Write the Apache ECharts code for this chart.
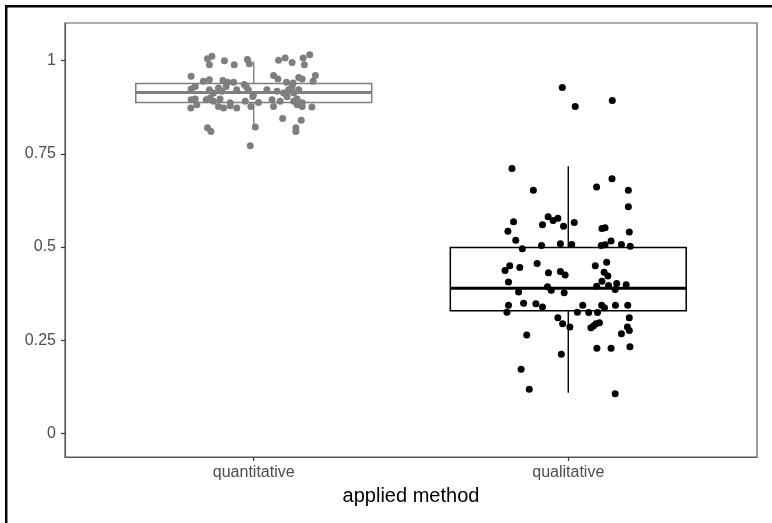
<!DOCTYPE html>
<html>
<head>
<meta charset="utf-8">
<script src="https://cdn.jsdelivr.net/npm/echarts@6/dist/echarts.min.js"></script>
<style>
html,body{margin:0;padding:0;background:#fff;}
#chart{width:772px;height:523px;}
</style>
</head>
<body>
<div id="chart"></div>
<script>
// ---- data ----
const categories = ['quantitative', 'qualitative'];
const yTicks = [0, 0.25, 0.5, 0.75, 1];
const xTitle = 'applied method';

// box statistics: [lower whisker, Q1, median, Q3, upper whisker]
const quantBox = [0.819, 0.888, 0.915, 0.939, 0.997];
const qualBox  = [0.109, 0.329, 0.389, 0.499, 0.717];

// jittered observations: horizontal jitter (category units) and value
const quantJitter = [-0.147,-0.133,-0.141,-0.093,-0.062,-0.020,-0.014,0.079,0.100,0.122,0.157,0.178,0.161,
  -0.199,-0.160,-0.141,-0.098,-0.083,-0.064,-0.030,0.063,0.077,0.104,0.125,0.143,0.154,0.196,0.189,
  -0.199,-0.186,-0.141,-0.128,-0.112,-0.101,-0.088,-0.054,-0.024,-0.017,-0.001,0.042,0.074,0.095,0.111,0.122,0.127,0.143,
  -0.199,-0.186,-0.151,-0.139,-0.128,-0.107,-0.075,-0.027,-0.003,0.015,0.058,0.084,0.106,0.127,0.138,0.154,
  -0.200,-0.181,-0.112,-0.096,-0.075,-0.054,-0.009,0.063,0.138,0.154,0.185,
  -0.147,-0.136,0.005,0.092,0.151,0.134,0.134,-0.011];
const quantValues = [1.005,1.012,0.989,1.000,0.989,1.003,0.992,1.001,1.007,0.995,1.007,1.016,0.989,
  0.958,0.945,0.949,0.947,0.942,0.942,0.936,0.960,0.951,0.942,0.940,0.955,0.951,0.960,0.945,
  0.924,0.931,0.922,0.913,0.927,0.918,0.931,0.922,0.931,0.922,0.909,0.922,0.918,0.913,0.922,0.931,0.913,0.922,
  0.895,0.897,0.895,0.900,0.891,0.897,0.887,0.891,0.904,0.888,0.895,0.891,0.903,0.891,0.897,0.887,
  0.873,0.882,0.877,0.873,0.879,0.873,0.877,0.877,0.882,0.877,0.876,
  0.820,0.810,0.822,0.845,0.840,0.820,0.810,0.772];

const qualJitter = [-0.019,0.022,0.140,
  -0.179,-0.111,0.090,0.139,0.191,0.191,-0.174,-0.192,-0.167,-0.146,
  -0.082,-0.064,-0.048,-0.033,-0.015,0.019,-0.085,-0.025,0.011,0.107,
  0.117,0.194,0.105,0.117,0.136,0.169,0.197,-0.186,-0.201,-0.154,
  -0.099,-0.063,-0.025,-0.010,-0.190,-0.066,0.086,0.122,0.114,0.126,
  0.107,0.090,0.128,0.154,0.184,-0.158,-0.054,-0.013,0.149,-0.190,
  -0.142,-0.103,-0.082,0.046,0.106,0.115,0.150,0.189,-0.195,0.029,
  0.065,0.093,-0.033,-0.018,0.005,0.072,0.080,0.088,0.099,0.194,
  0.188,0.194,0.169,-0.132,0.091,0.136,0.196,-0.022,-0.150,-0.124,0.149];
const qualValues = [0.928,0.877,0.893,
  0.711,0.652,0.661,0.683,0.652,0.608,0.568,0.542,0.518,0.495,
  0.560,0.581,0.571,0.577,0.556,0.566,0.504,0.509,0.507,0.550,
  0.552,0.540,0.504,0.506,0.516,0.507,0.502,0.450,0.437,0.445,
  0.456,0.431,0.434,0.425,0.406,0.393,0.450,0.459,0.432,0.422,
  0.408,0.395,0.397,0.402,0.399,0.379,0.384,0.377,0.386,0.344,
  0.349,0.348,0.339,0.344,0.344,0.337,0.344,0.344,0.325,0.325,
  0.324,0.324,0.310,0.294,0.285,0.283,0.288,0.294,0.297,0.310,
  0.285,0.276,0.267,0.264,0.228,0.228,0.232,0.212,0.172,0.118,0.106];

// ---- build ----
const quantColor = '#7f7f7f';
const qualColor = '#000000';
const quantPoints = quantJitter.map((j, i) => [1 + j, quantValues[i]]);
const qualPoints = qualJitter.map((j, i) => [2 + j, qualValues[i]]);
const boxData = [
  [1].concat(quantBox),
  [2].concat(qualBox)
];
const boxColors = [quantColor, qualColor];

const chart = echarts.init(document.getElementById('chart'), null, {renderer: 'canvas'});

function renderBox(params, api) {
  const x = api.value(0);
  const c = boxColors[params.dataIndex];
  const lo = api.coord([x, api.value(1)]);
  const q1 = api.coord([x, api.value(2)]);
  const md = api.coord([x, api.value(3)]);
  const q3 = api.coord([x, api.value(4)]);
  const hi = api.coord([x, api.value(5)]);
  const left = api.coord([x - 0.375, api.value(3)])[0];
  const right = api.coord([x + 0.375, api.value(3)])[0];
  return {
    type: 'group',
    children: [
      {type: 'line', shape: {x1: hi[0], y1: hi[1], x2: q3[0], y2: q3[1]}, style: {stroke: c, lineWidth: 1.4}},
      {type: 'line', shape: {x1: lo[0], y1: lo[1], x2: q1[0], y2: q1[1]}, style: {stroke: c, lineWidth: 1.4}},
      {type: 'rect', shape: {x: left, y: q3[1], width: right - left, height: q1[1] - q3[1]},
        style: {fill: '#ffffff', stroke: c, lineWidth: 1.5}},
      {type: 'line', shape: {x1: left, y1: md[1], x2: right, y2: md[1]}, style: {stroke: c, lineWidth: 3}}
    ]
  };
}

const axisFont = 'Liberation Sans, Arial, sans-serif';
const option = {
  backgroundColor: '#ffffff',
  animation: false,
  textStyle: {fontFamily: axisFont},
  grid: {
    left: 65, top: 23, width: 692, height: 434,
    show: true, borderColor: '#5a5a5a', borderWidth: 1.2, backgroundColor: 'transparent'
  },
  xAxis: {
    type: 'value', min: 0.4, max: 2.6,
    splitLine: {show: false},
    axisLine: {show: true, onZero: false, lineStyle: {color: '#5a5a5a', width: 1.2}},
    axisTick: {show: true, inside: false, customValues: [1, 2], length: 4, lineStyle: {color: '#333333', width: 1.2}},
    axisLabel: {
      customValues: [1, 2], margin: 8, fontSize: 16, color: '#4d4d4d',
      fontFamily: axisFont,
      formatter: v => categories[Math.round(v) - 1] || ''
    },
    name: xTitle, nameLocation: 'middle', nameGap: 29,
    nameTextStyle: {fontSize: 20, color: '#000000', fontFamily: axisFont}
  },
  yAxis: {
    type: 'value', min: -0.0636, max: 1.1012,
    splitLine: {show: false},
    axisLine: {show: true, onZero: false, lineStyle: {color: '#5a5a5a', width: 1.2}},
    axisTick: {show: true, inside: false, customValues: yTicks, length: 4, lineStyle: {color: '#333333', width: 1.2}},
    axisLabel: {
      customValues: yTicks, margin: 9, fontSize: 16, color: '#4d4d4d',
      fontFamily: axisFont,
      formatter: v => String(v)
    }
  },
  graphic: [
    {type: 'line', shape: {x1: 6.2, y1: 5, x2: 6.2, y2: 523}, style: {stroke: '#000', lineWidth: 2.5}, z: 100},
    {type: 'line', shape: {x1: 5, y1: 6.2, x2: 772, y2: 6.2}, style: {stroke: '#000', lineWidth: 2.5}, z: 100}
  ],
  series: [
    {
      type: 'custom', renderItem: renderBox, data: boxData,
      dimensions: ['x', 'low', 'q1', 'median', 'q3', 'high'],
      encode: {x: 0, y: [1, 2, 3, 4, 5]}, z: 2, silent: true
    },
    {
      type: 'scatter', data: quantPoints, symbolSize: 7, z: 3,
      itemStyle: {color: quantColor, opacity: 1}
    },
    {
      type: 'scatter', data: qualPoints, symbolSize: 7, z: 3,
      itemStyle: {color: qualColor, opacity: 1}
    }
  ]
};
chart.setOption(option);
</script>
</body>
</html>
